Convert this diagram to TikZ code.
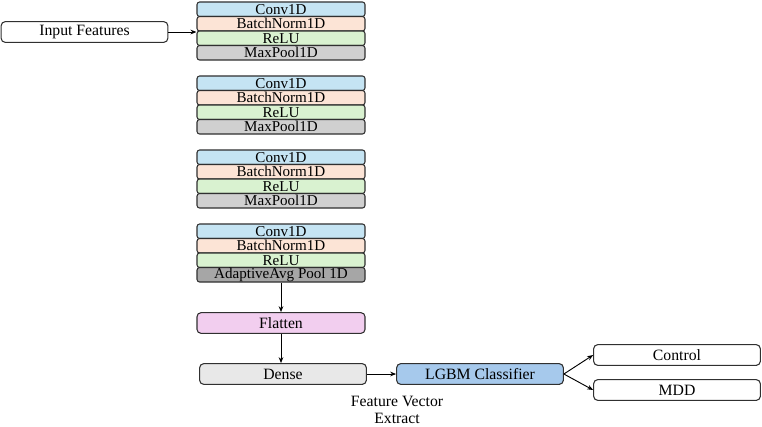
\documentclass[tikz,border=0pt]{standalone}
\usepackage{fontspec}
\setmainfont{Liberation Serif}
\usetikzlibrary{arrows.meta}
\definecolor{cconv}{HTML}{C5E4F3}
\definecolor{cbn}{HTML}{FCE4D6}
\definecolor{crelu}{HTML}{D9F2D0}
\definecolor{cpool}{HTML}{D0D0D0}
\definecolor{cadapt}{HTML}{A6A6A6}
\definecolor{cflat}{HTML}{F2CEEF}
\definecolor{cdense}{HTML}{E8E8E8}
\definecolor{clgbm}{HTML}{A6C9EC}
\definecolor{cline}{HTML}{303030}
\tikzset{
  layer/.style={draw=cline, line width=0.8pt, rounded corners=2pt, minimum width=126pt, minimum height=10.9pt, inner sep=0pt, font=\fontsize{11.3}{11}\selectfont},
  boxnode/.style={draw=cline, line width=0.8pt, rounded corners=3pt, minimum width=125pt, minimum height=15.5pt, inner sep=0pt, font=\fontsize{11.8}{12}\selectfont},
  arr/.style={-{Stealth[length=4.5pt,width=3.5pt]}, line width=0.7pt, draw=black}
}
\begin{document}
\begin{tikzpicture}[x=0.75pt,y=-0.75pt]
\useasboundingbox (0,0) rectangle (762,426);
\foreach \i/\t in {1/2,2/76,3/150} {
  \node[layer, fill=cconv] (c\i) at (281,\t+7.25) {Conv1D};
  \node[layer, fill=cbn] (n\i) at (281,\t+21.75) {BatchNorm1D};
  \node[layer, fill=crelu] (r\i) at (281,\t+36.25) {ReLU};
  \node[layer, fill=cpool] (p\i) at (281,\t+50.75) {MaxPool1D};
}
\node[layer, fill=cconv] (c4) at (281,231.25) {Conv1D};
\node[layer, fill=cbn] (n4) at (281,245.75) {BatchNorm1D};
\node[layer, fill=crelu] (r4) at (281,260.25) {ReLU};
\node[layer, fill=cadapt] (p4) at (281,274.75) {AdaptiveAvg Pool 1D};

\node[boxnode, fill=white, minimum width=125pt] (in) at (84.5,32) {Input Features};
\node[boxnode, fill=cflat, minimum width=126pt] (flat) at (281,323) {Flatten};
\node[boxnode, fill=cdense] (dense) at (283,374) {Dense};
\node[boxnode, fill=clgbm] (lgbm) at (480,374) {LGBM Classifier};
\node[boxnode, fill=white] (ctrl) at (677,355) {Control};
\node[boxnode, fill=white] (mdd) at (677,390) {MDD};
\node[align=center, font=\fontsize{11.8}{13}\selectfont] (fve) at (397,410) {Feature Vector\\Extract};

\draw[arr] (in.east) -- (in.east -| n1.west);
\draw[arr] (p4.south) -- (flat.north);
\draw[arr] (flat.south) -- (flat.south |- dense.north);
\draw[arr] (dense.east) -- (lgbm.west);
\draw[arr] (lgbm.east) -- (ctrl.west);
\draw[arr] (lgbm.east) -- (mdd.west);
\end{tikzpicture}
\end{document}
